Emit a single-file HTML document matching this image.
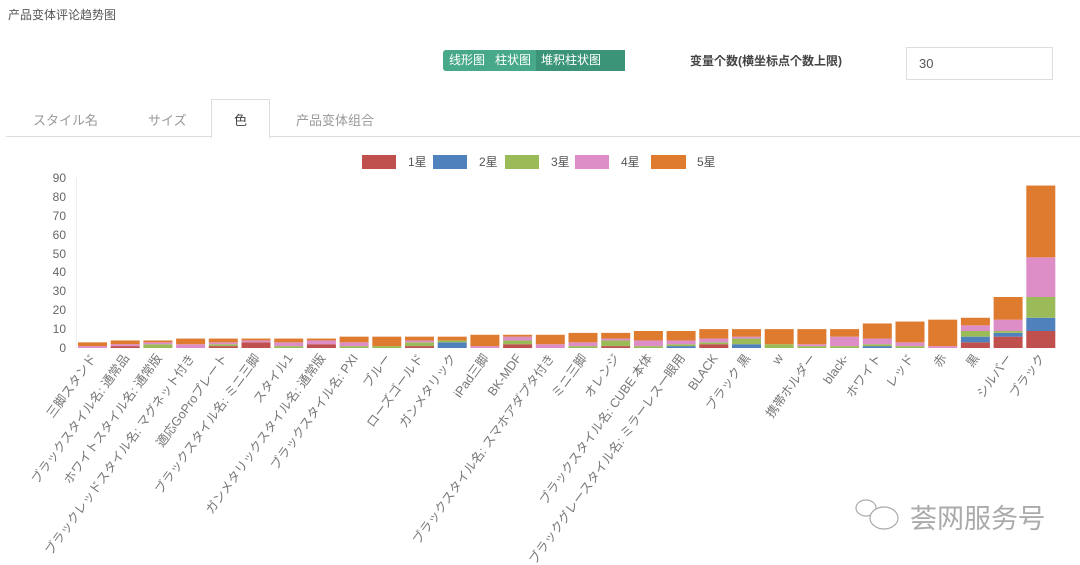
<!DOCTYPE html>
<html><head><meta charset="utf-8"><style>
body{margin:0;width:1080px;height:565px;background:#fff;font-family:"Liberation Sans","Noto Sans CJK JP",sans-serif;position:relative;overflow:hidden;color:#555}
.a{position:absolute}
.r{fill:#bf504d}.b{fill:#4f81bd}.g{fill:#9bbb59}.p{fill:#dd8ec6}.o{fill:#df7b2f}
svg text{font-family:"Liberation Sans","Noto Sans CJK JP",sans-serif}
</style></head><body>
<div class="a" style="left:8px;top:6px;font-size:12px;color:#555">产品变体评论趋势图</div>
<div class="a" style="left:443px;top:50px;width:182px;height:21px;background:#47a98a;border-radius:3px;color:#fff;font-size:12px;line-height:21px;display:flex">
<span style="padding:0 5px 0 6px">线形图</span><span style="padding:0 5px">柱状图</span><span style="padding:0 5px;background:#3b9478;flex:1">堆积柱状图</span></div>
<div class="a" style="left:690px;top:52px;font-size:12px;font-weight:bold;color:#444">变量个数(横坐标点个数上限)</div>
<div class="a" style="left:906px;top:47px;width:145px;height:31px;border:1px solid #ddd;font-size:13px;line-height:31px;color:#555"><span style="padding-left:12px">30</span></div>
<div class="a" style="left:6px;top:136px;width:1074px;height:1px;background:#ddd"></div>
<div class="a" style="left:211px;top:99px;width:57px;height:38px;border:1px solid #ddd;border-bottom:1px solid #fff;background:#fff"></div>
<div class="a" style="left:33px;top:110px;font-size:13px;color:#999">スタイル名</div>
<div class="a" style="left:148px;top:110px;font-size:13px;color:#999">サイズ</div>
<div class="a" style="left:234px;top:110px;font-size:13px;color:#444">色</div>
<div class="a" style="left:296px;top:110px;font-size:13px;color:#999">产品变体组合</div>
<svg class="a" style="left:0;top:0" width="1080" height="565">
<rect x="362" y="155" width="34" height="14" class="r"/><text x="408" y="166" font-size="12" fill="#555">1星</text>
<rect x="433" y="155" width="34" height="14" class="b"/><text x="479" y="166" font-size="12" fill="#555">2星</text>
<rect x="505" y="155" width="34" height="14" class="g"/><text x="551" y="166" font-size="12" fill="#555">3星</text>
<rect x="575" y="155" width="34" height="14" class="p"/><text x="621" y="166" font-size="12" fill="#555">4星</text>
<rect x="651" y="155" width="35" height="14" class="o"/><text x="697" y="166" font-size="12" fill="#555">5星</text>
<line x1="76.5" y1="178" x2="76.5" y2="348" stroke="#eee"/>
<g font-size="12" fill="#666" text-anchor="end">
<text x="66" y="182">90</text>
<text x="66" y="201">80</text><text x="66" y="220">70</text><text x="66" y="239">60</text><text x="66" y="258">50</text><text x="66" y="276">40</text><text x="66" y="295">30</text><text x="66" y="314">20</text><text x="66" y="333">10</text><text x="66" y="352">0</text>
</g>
<g>
<g transform="translate(78,348) scale(1,-1.889)"><rect y="0" height="1" width="29" class="p"/><rect y="1" height="2" width="29" class="o"/></g>
<g transform="translate(110.7,348) scale(1,-1.889)"><rect y="0" height="1" width="29" class="r"/><rect y="1" height="1" width="29" class="p"/><rect y="2" height="2" width="29" class="o"/></g>
<g transform="translate(143.4,348) scale(1,-1.889)"><rect y="0" height="2" width="29" class="g"/><rect y="2" height="1" width="29" class="p"/><rect y="3" height="1" width="29" class="o"/></g>
<g transform="translate(176.1,348) scale(1,-1.889)"><rect y="0" height="2" width="29" class="p"/><rect y="2" height="3" width="29" class="o"/></g>
<g transform="translate(208.8,348) scale(1,-1.889)"><rect y="0" height="1" width="29" class="r"/><rect y="1" height="1" width="29" class="g"/><rect y="2" height="1" width="29" class="p"/><rect y="3" height="2" width="29" class="o"/></g>
<g transform="translate(241.5,348) scale(1,-1.889)"><rect y="0" height="3" width="29" class="r"/><rect y="3" height="1" width="29" class="p"/><rect y="4" height="1" width="29" class="o"/></g>
<g transform="translate(274.2,348) scale(1,-1.889)"><rect y="0" height="1" width="29" class="g"/><rect y="1" height="2" width="29" class="p"/><rect y="3" height="2" width="29" class="o"/></g>
<g transform="translate(306.9,348) scale(1,-1.889)"><rect y="0" height="2" width="29" class="r"/><rect y="2" height="2" width="29" class="p"/><rect y="4" height="1" width="29" class="o"/></g>
<g transform="translate(339.6,348) scale(1,-1.889)"><rect y="0" height="1" width="29" class="g"/><rect y="1" height="2" width="29" class="p"/><rect y="3" height="3" width="29" class="o"/></g>
<g transform="translate(372.3,348) scale(1,-1.889)"><rect y="0" height="1" width="29" class="g"/><rect y="1" height="5" width="29" class="o"/></g>
<g transform="translate(405,348) scale(1,-1.889)"><rect y="0" height="1" width="29" class="r"/><rect y="1" height="2" width="29" class="g"/><rect y="3" height="1" width="29" class="p"/><rect y="4" height="2" width="29" class="o"/></g>
<g transform="translate(437.7,348) scale(1,-1.889)"><rect y="0" height="3" width="29" class="b"/><rect y="3" height="1" width="29" class="g"/><rect y="4" height="2" width="29" class="o"/></g>
<g transform="translate(470.4,348) scale(1,-1.889)"><rect y="0" height="1" width="29" class="p"/><rect y="1" height="6" width="29" class="o"/></g>
<g transform="translate(503.1,348) scale(1,-1.889)"><rect y="0" height="2" width="29" class="r"/><rect y="2" height="2" width="29" class="g"/><rect y="4" height="2" width="29" class="p"/><rect y="6" height="1" width="29" class="o"/></g>
<g transform="translate(535.8,348) scale(1,-1.889)"><rect y="0" height="2" width="29" class="p"/><rect y="2" height="5" width="29" class="o"/></g>
<g transform="translate(568.5,348) scale(1,-1.889)"><rect y="0" height="1" width="29" class="g"/><rect y="1" height="2" width="29" class="p"/><rect y="3" height="5" width="29" class="o"/></g>
<g transform="translate(601.2,348) scale(1,-1.889)"><rect y="0" height="1" width="29" class="r"/><rect y="1" height="3" width="29" class="g"/><rect y="4" height="1" width="29" class="p"/><rect y="5" height="3" width="29" class="o"/></g>
<g transform="translate(633.9,348) scale(1,-1.889)"><rect y="0" height="1" width="29" class="g"/><rect y="1" height="3" width="29" class="p"/><rect y="4" height="5" width="29" class="o"/></g>
<g transform="translate(666.6,348) scale(1,-1.889)"><rect y="0" height="1" width="29" class="b"/><rect y="1" height="1" width="29" class="g"/><rect y="2" height="2" width="29" class="p"/><rect y="4" height="5" width="29" class="o"/></g>
<g transform="translate(699.3,348) scale(1,-1.889)"><rect y="0" height="2" width="29" class="r"/><rect y="2" height="1" width="29" class="g"/><rect y="3" height="2" width="29" class="p"/><rect y="5" height="5" width="29" class="o"/></g>
<g transform="translate(732,348) scale(1,-1.889)"><rect y="0" height="2" width="29" class="b"/><rect y="2" height="3" width="29" class="g"/><rect y="5" height="1" width="29" class="p"/><rect y="6" height="4" width="29" class="o"/></g>
<g transform="translate(764.7,348) scale(1,-1.889)"><rect y="0" height="2" width="29" class="g"/><rect y="2" height="8" width="29" class="o"/></g>
<g transform="translate(797.4,348) scale(1,-1.889)"><rect y="0" height="1" width="29" class="g"/><rect y="1" height="1" width="29" class="p"/><rect y="2" height="8" width="29" class="o"/></g>
<g transform="translate(830.1,348) scale(1,-1.889)"><rect y="0" height="1" width="29" class="g"/><rect y="1" height="5" width="29" class="p"/><rect y="6" height="4" width="29" class="o"/></g>
<g transform="translate(862.8,348) scale(1,-1.889)"><rect y="0" height="1" width="29" class="b"/><rect y="1" height="1" width="29" class="g"/><rect y="2" height="3" width="29" class="p"/><rect y="5" height="8" width="29" class="o"/></g>
<g transform="translate(895.5,348) scale(1,-1.889)"><rect y="0" height="1" width="29" class="g"/><rect y="1" height="2" width="29" class="p"/><rect y="3" height="11" width="29" class="o"/></g>
<g transform="translate(928.2,348) scale(1,-1.889)"><rect y="0" height="1" width="29" class="p"/><rect y="1" height="14" width="29" class="o"/></g>
<g transform="translate(960.9,348) scale(1,-1.889)"><rect y="0" height="3" width="29" class="r"/><rect y="3" height="3" width="29" class="b"/><rect y="6" height="3" width="29" class="g"/><rect y="9" height="3" width="29" class="p"/><rect y="12" height="4" width="29" class="o"/></g>
<g transform="translate(993.6,348) scale(1,-1.889)"><rect y="0" height="6" width="29" class="r"/><rect y="6" height="2" width="29" class="b"/><rect y="8" height="1" width="29" class="g"/><rect y="9" height="6" width="29" class="p"/><rect y="15" height="12" width="29" class="o"/></g>
<g transform="translate(1026.3,348) scale(1,-1.889)"><rect y="0" height="9" width="29" class="r"/><rect y="9" height="7" width="29" class="b"/><rect y="16" height="11" width="29" class="g"/><rect y="27" height="21" width="29" class="p"/><rect y="48" height="38" width="29" class="o"/></g>
</g>
<g font-size="12.5" fill="#777" text-anchor="end">
<text transform="translate(97,358) rotate(-54)">三脚スタンド</text>
<text transform="translate(129.7,358) rotate(-54)">ブラックスタイル名: 通常品</text>
<text transform="translate(162.4,358) rotate(-54)">ホワイトスタイル名: 通常版</text>
<text transform="translate(195.1,358) rotate(-54)">ブラックレッドスタイル名: マグネット付き</text>
<text transform="translate(227.8,358) rotate(-54)">適応GoProプレート</text>
<text transform="translate(260.5,358) rotate(-54)">ブラックスタイル名: ミニ三脚</text>
<text transform="translate(293.2,358) rotate(-54)">スタイル1</text>
<text transform="translate(325.9,358) rotate(-54)">ガンメタリックスタイル名: 通常版</text>
<text transform="translate(358.6,358) rotate(-54)">ブラックスタイル名: PXI</text>
<text transform="translate(391.3,358) rotate(-54)">ブルー</text>
<text transform="translate(424,358) rotate(-54)">ローズゴールド</text>
<text transform="translate(456.7,358) rotate(-54)">ガンメタリック</text>
<text transform="translate(489.4,358) rotate(-54)">iPad三脚</text>
<text transform="translate(522.1,358) rotate(-54)">BK-MDF</text>
<text transform="translate(554.8,358) rotate(-54)">ブラックスタイル名: スマホアダプタ付き</text>
<text transform="translate(587.5,358) rotate(-54)">ミニ三脚</text>
<text transform="translate(620.2,358) rotate(-54)">オレンジ</text>
<text transform="translate(652.9,358) rotate(-54)">ブラックスタイル名: CUBE 本体</text>
<text transform="translate(685.6,358) rotate(-54)">ブラックグレースタイル名: ミラーレス一眼用</text>
<text transform="translate(718.3,358) rotate(-54)">BLACK</text>
<text transform="translate(751,358) rotate(-54)">ブラック 黒</text>
<text transform="translate(783.7,358) rotate(-54)">w</text>
<text transform="translate(816.4,358) rotate(-54)">携帯ホルダー</text>
<text transform="translate(849.1,358) rotate(-54)">black-</text>
<text transform="translate(881.8,358) rotate(-54)">ホワイト</text>
<text transform="translate(914.5,358) rotate(-54)">レッド</text>
<text transform="translate(947.2,358) rotate(-54)">赤</text>
<text transform="translate(979.9,358) rotate(-54)">黒</text>
<text transform="translate(1012.6,358) rotate(-54)">シルバー</text>
<text transform="translate(1045.3,358) rotate(-54)">ブラック</text>
</g>
<g fill="none" stroke="#aaa" stroke-width="1.2">
<ellipse cx="866" cy="508" rx="10" ry="8"/><ellipse cx="884" cy="518" rx="14" ry="11" fill="#fff"/>
</g>
<text x="910" y="528" font-size="27" fill="#aaa" font-family="Liberation Sans,Noto Sans CJK SC,sans-serif">荟网服务号</text>
</svg>
</body></html>
